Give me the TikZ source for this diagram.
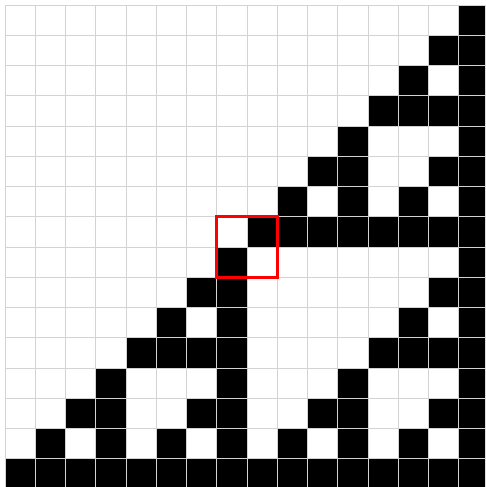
\documentclass[tikz,border=0pt]{standalone}
\definecolor{cgrid}{HTML}{D3D3D3}
\definecolor{cmark}{HTML}{FF0000}
\tikzset{
  cell/.style={fill=black},
  gridline/.style={draw=cgrid, line width=0.8pt},
  marker/.style={draw=cmark, line width=2.4pt},
}

\begin{document}
\begin{tikzpicture}[y=-1cm]
  \useasboundingbox (-0.165,-0.165) rectangle (15.868,15.934);
  \clip (-0.165,-0.165) rectangle (15.868,15.934);
  % black cells, row by row from the top
  \foreach \r/\cols in {0/{15}, 1/{14,15}, 2/{13,15}, 3/{12,13,14,15},
      4/{11,15}, 5/{10,11,14,15}, 6/{9,11,13,15}, 7/{8,9,10,11,12,13,14,15},
      8/{7,15}, 9/{6,7,14,15}, 10/{5,7,13,15}, 11/{4,5,6,7,12,13,14,15},
      12/{3,7,11,15}, 13/{2,3,6,7,10,11,14,15}, 14/{1,3,5,7,9,11,13,15},
      15/{0,1,2,3,4,5,6,7,8,9,10,11,12,13,14,15}}
    \foreach \c in \cols
      \fill[cell] (\c,\r) rectangle ++(1,1);
  \draw[gridline] (0,0) grid (16,16);
  % highlighted 2x2 block
  \draw[marker] (7,7) rectangle (9,9);
\end{tikzpicture}
\end{document}
